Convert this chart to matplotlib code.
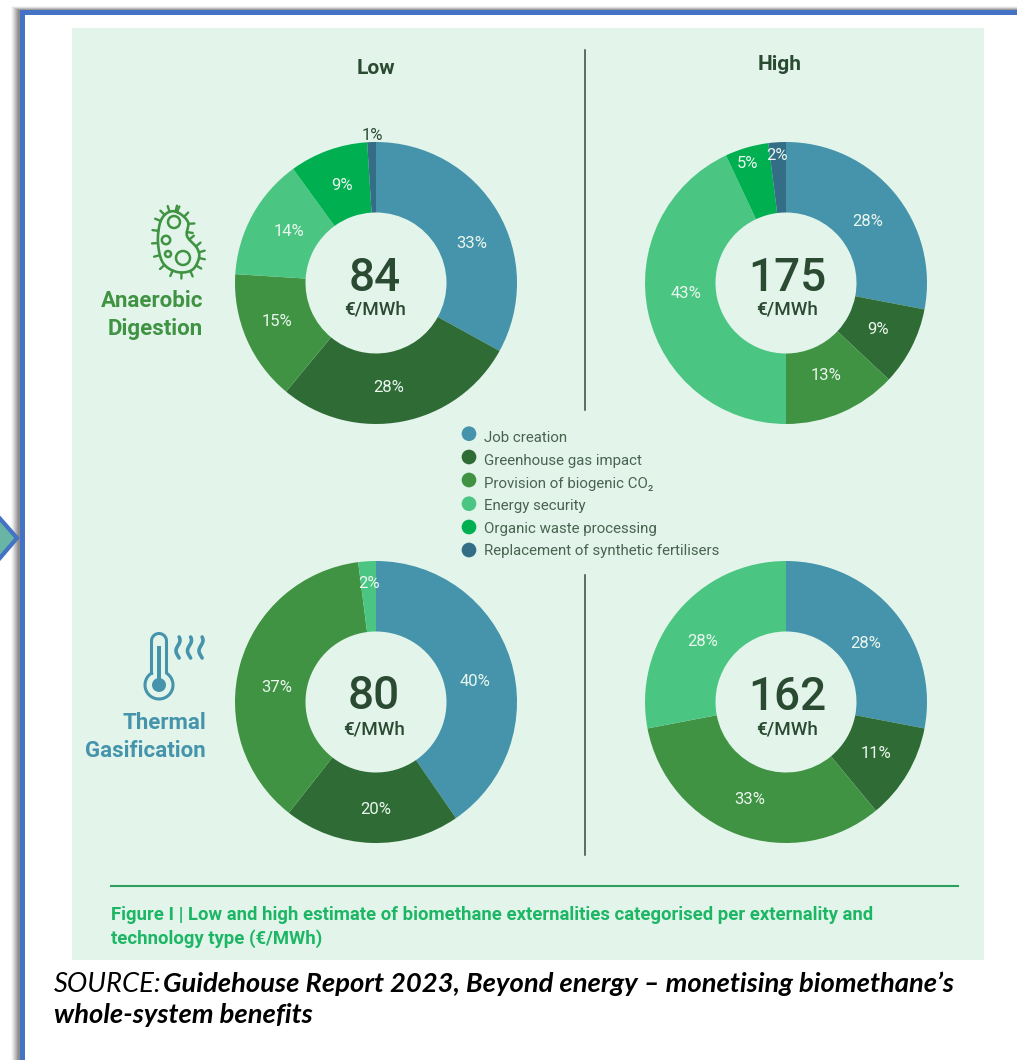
import numpy as np
import matplotlib
matplotlib.use("Agg")
import matplotlib.pyplot as plt
from matplotlib.patches import Rectangle, Circle, Polygon

categories = ["Job creation", "Greenhouse gas impact", "Provision of biogenic CO\u2082",
              "Energy security", "Organic waste processing", "Replacement of synthetic fertilisers"]
colors = ["#4594AB", "#2F6B35", "#409343", "#4BC682", "#00AF50", "#336E86"]

ad_low = [33, 28, 15, 14, 9, 1]
ad_high = [28, 9, 13, 43, 5, 2]
tg_low = [40, 20, 37, 2, 0, 0]
tg_high = [28, 11, 33, 28, 0, 0]
totals = ["84", "175", "80", "162"]
unit = "\u20ac/MWh"

W, H = 1017, 1060
fig = plt.figure(figsize=(W / 100, H / 100), dpi=100, facecolor="white")
plt.rcParams["font.family"] = ["Roboto", "DejaVu Sans"]

bg = fig.add_axes([0, 0, 1, 1], zorder=1)
bg.set_xlim(0, W)
bg.set_ylim(H, 0)
bg.axis("off")

top_ax = fig.add_axes([0, 0, 1, 1], zorder=4)
top_ax.set_xlim(0, W)
top_ax.set_ylim(H, 0)
top_ax.axis("off")

# window shadow + frame
for i, a in enumerate(np.linspace(0.04, 0.2, 8)):
    bg.add_patch(Rectangle((11 + i, 6 + i * 0.5), W, H, fc="#505050", ec="none", alpha=a, zorder=1))
bg.add_patch(Rectangle((21.5, 11.5), W + 20, H + 20, fc="white", ec="#4472C4", lw=3.6, zorder=2))

# left arrow tip
bg.add_patch(Polygon([(-12, 505), (17, 538), (-12, 572)], closed=True, fc="#68B5A6",
                     ec="#4472C4", lw=3, zorder=3))

# panel
bg.add_patch(Rectangle((72, 28), 912, 932, fc="#E3F5EB", ec="none", zorder=3))
INK = "#2B4A32"
bg.plot([585, 585], [50, 410], color="#33483A", lw=1.1, zorder=4)
bg.plot([585, 585], [575, 855], color="#33483A", lw=1.1, zorder=4)
bg.plot([111, 958], [886, 886], color="#2C9F5F", lw=1.5, zorder=4)

bg.text(376, 68, "Low", ha="center", va="center", fontsize=15, fontweight="bold", color=INK, zorder=5)
bg.text(780, 64, "High", ha="center", va="center", fontsize=15, fontweight="bold", color=INK, zorder=5)

# row labels
bg.text(203, 301, "Anaerobic", ha="right", va="center", fontsize=16, fontweight="bold", color="#409343", zorder=5)
bg.text(203, 329, "Digestion", ha="right", va="center", fontsize=16, fontweight="bold", color="#409343", zorder=5)
bg.text(206, 723, "Thermal", ha="right", va="center", fontsize=16, fontweight="bold", color="#4594AB", zorder=5)
bg.text(206, 751, "Gasification", ha="right", va="center", fontsize=16, fontweight="bold", color="#4594AB", zorder=5)

# bacterium icon
GI = "#409343"
outline = np.array([(177, 212), (188, 222), (187, 236), (197, 248), (199, 258), (192, 270),
                    (177, 272), (163, 263), (158, 243), (160, 223), (167, 213)], float)
def smooth(pts, n=14):
    out = []
    m = len(pts)
    for i in range(m):
        p0, p1, p2, p3 = pts[i - 1], pts[i], pts[(i + 1) % m], pts[(i + 2) % m]
        for t in np.linspace(0, 1, n, endpoint=False):
            out.append(0.5 * (2 * p1 + (p2 - p0) * t + (2 * p0 - 5 * p1 + 4 * p2 - p3) * t ** 2
                              + (3 * p1 - p0 - 3 * p2 + p3) * t ** 3))
    return np.array(out)
curve = smooth(outline)
closed = np.vstack([curve, curve[:1]])
bg.plot(closed[:, 0], closed[:, 1], color=GI, lw=1.9, zorder=5)
cx, cy = curve.mean(axis=0)
for i in range(0, len(curve), 8):
    p = curve[i]
    d = curve[(i + 1) % len(curve)] - curve[i - 1]
    nrm = np.array([d[1], -d[0]]) / np.hypot(*d)
    if np.dot(nrm, p - [cx, cy]) < 0:
        nrm = -nrm
    bg.plot([p[0], p[0] + nrm[0] * 6], [p[1], p[1] + nrm[1] * 6], color=GI, lw=1.7, zorder=5,
            solid_capstyle="round")
for (x, y, r) in [(174, 222, 6), (166, 240, 4.2), (168, 254, 3), (183, 258, 7)]:
    bg.add_patch(Circle((x, y), r, fc="none", ec=GI, lw=1.8, zorder=5))

# thermometer icon
TI = "#4594AB"
theta = np.radians(np.linspace(122.4, 417.6, 60))
bx = 159 + 14 * np.cos(theta)
by = 685 - 14 * np.sin(theta)
top = np.radians(np.linspace(0, 180, 20))
tx = 159 + 7.5 * np.cos(top)
ty = 641 - 7.5 * np.sin(top)
tube = np.column_stack([np.r_[bx, tx], np.r_[by, ty]])
tube = np.vstack([tube, tube[:1]])
bg.plot(tube[:, 0], tube[:, 1], color=TI, lw=2.2, zorder=5)
bg.add_patch(Rectangle((156.7, 646), 4.6, 36, fc=TI, ec="none", zorder=5))
bg.add_patch(Circle((159, 685), 7, fc=TI, ec="none", zorder=5))
for x0 in (178, 189.5, 201):
    yy = np.linspace(637, 658, 30)
    xx = x0 + 2.0 * np.sin((yy - 637) / 21 * 2 * np.pi + 0.6)
    bg.plot(xx, yy, color=TI, lw=2.6, solid_capstyle="round", zorder=5)

# legend
leg_y = [433.7, 457, 480, 503.7, 527, 550]
text_y = [438.5, 461.3, 483.7, 506.3, 529, 551.5]
bg.scatter([469] * 6, leg_y, s=112, c=colors, linewidths=0, zorder=5)
for y, c in zip(text_y, categories):
    bg.text(484, y, c, ha="left", va="center", fontsize=10.8, color="#4A6350", zorder=5)

# caption
CAP = dict(ha="left", va="center", fontsize=13.35, fontweight="bold", color="#1DB665", zorder=5)
bg.text(111, 915, "Figure I | Low and high estimate of biomethane externalities categorised per externality and", **CAP)
bg.text(111, 939, "technology type (\u20ac/MWh)", **CAP)

# source
SF = ["Lato", "DejaVu Sans"]
SRC = dict(ha="left", va="center", fontsize=19.75, style="italic", family=SF, color="black", zorder=5)
t1 = bg.text(54, 984, "SOURCE:", **SRC)
fig.canvas.draw()
ext = t1.get_window_extent()
bg.text(ext.x1 + 1, 984, "Guidehouse Report 2023, Beyond energy \u2013 monetising biomethane\u2019s",
        fontweight="bold", **SRC)
bg.text(54, 1015, "whole-system benefits", fontweight="bold", **SRC)

# donuts
R = 141
LAB = "#EAF7EF"
def donut(cx, cy, vals, total, tx, ty, uy, label_xy):
    ax = fig.add_axes([(cx - R) / W, 1 - (cy + R) / H, 2 * R / W, 2 * R / H], zorder=3)
    ax.patch.set_alpha(0)
    kept = [v for v in vals if v > 0]
    ax.pie(kept, colors=colors[:len(kept)], startangle=90, counterclock=False, radius=1,
           wedgeprops=dict(width=0.5, linewidth=0))
    ax.set_xlim(-1, 1)
    ax.set_ylim(-1, 1)
    for v, (lx, ly) in zip(kept, label_xy):
        outside = np.hypot(lx - cx, ly - cy) > R
        top_ax.text(lx, ly, f"{v}%", ha="center", va="center", fontsize=12,
                    color=INK if outside else LAB)
    top_ax.text(tx, ty, total, ha="center", va="center", fontsize=33, fontweight="medium", color=INK)
    top_ax.text(tx, uy, unit, ha="center", va="center", fontsize=13.6, fontweight="medium", color=INK)

donut(376, 283, ad_low, totals[0], 375, 278, 310,
      [(472, 243), (389, 388), (277, 321), (289, 232), (342, 185), (372, 135)])
donut(786, 283, ad_high, totals[1], 787, 278, 310,
      [(868, 221), (878, 330), (826, 375), (686, 293), (748, 163), (777, 156)])
donut(376, 702, tg_low, totals[2], 374, 696, 729,
      [(475, 682), (376, 809), (277, 688), (369, 583)])
donut(786, 702, tg_high, totals[3], 787, 697, 729,
      [(866, 644), (876, 754), (750, 800), (703, 641)])

fig.savefig("out.png", dpi=100)
